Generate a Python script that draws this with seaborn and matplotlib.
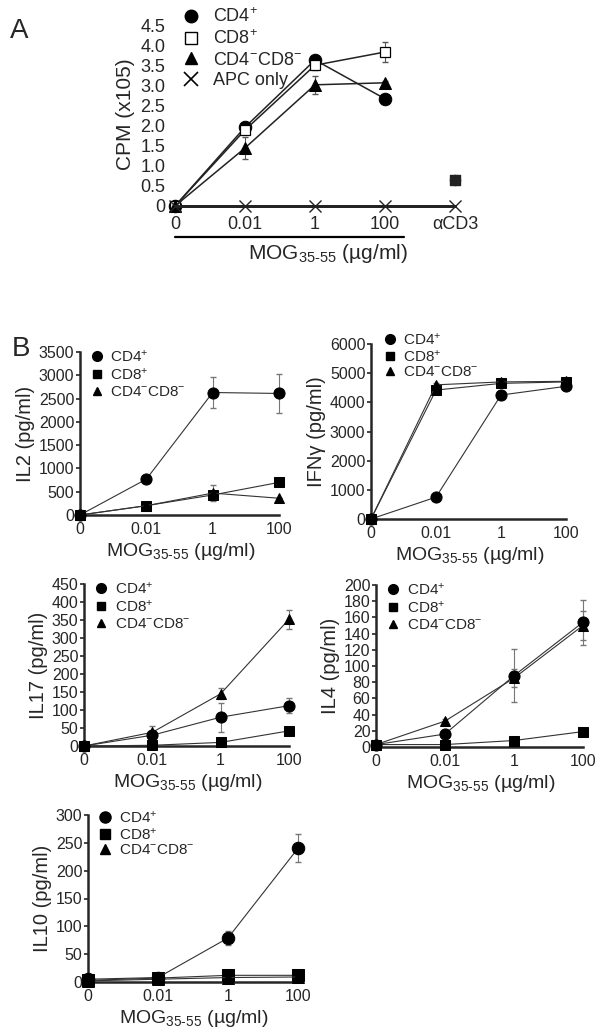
import numpy as np
import pandas as pd
import matplotlib.pyplot as plt
import seaborn as sns
from matplotlib.lines import Line2D

sns.set_style("ticks")
plt.rcParams['font.family'] = ['Liberation Sans', 'DejaVu Sans']
plt.rcParams['mathtext.default'] = 'regular'

# ---------------- data ----------------
doses = ["0", "0.01", "1", "100"]
a_ticks = ["0", "0.01", "1", "100", "αCD3"]

# panel A: proliferation (CPM x10^5)
a_cd4 = [0, 1.97, 3.65, 2.68]
a_cd8 = [0, 1.90, 3.52, 3.85]
a_dn = [0, 1.45, 3.03, 3.08]
a_apc = [0, 0, 0, 0, 0]
a_cd4_err = [0, 0.05, 0.05, 0.05]
a_cd8_err = [0, 0.05, 0.12, 0.25]
a_dn_err = [0, 0.27, 0.22, 0.05]
a_acd3 = [0.65, 0.65, 0.64]   # CD4, CD8, CD4-CD8- with anti-CD3

# panel B: cytokines (pg/ml)
il2_cd4 = [0, 770, 2630, 2610]
il2_cd8 = [0, 200, 430, 700]
il2_dn = [0, 200, 470, 360]
il2_cd4_err = [0, 20, 340, 420]
il2_dn_err = [0, 0, 170, 0]

ifn_cd4 = [0, 750, 4250, 4550]
ifn_cd8 = [0, 4420, 4650, 4700]
ifn_dn = [0, 4600, 4700, 4720]
ifn_cd4_err = [0, 20, 50, 80]
ifn_dn_err = [0, 50, 60, 80]

il17_cd4 = [0, 30, 80, 112]
il17_cd8 = [0, 2, 10, 42]
il17_dn = [0, 38, 145, 352]
il17_cd4_err = [0, 10, 40, 20]
il17_dn_err = [0, 18, 15, 27]

il4_cd4 = [3, 16, 88, 154]
il4_cd8 = [3, 3, 8, 19]
il4_dn = [3, 32, 85, 150]
il4_cd4_err = [0, 2, 33, 28]
il4_dn_err = [0, 2, 11, 18]

il10_cd4 = [5, 8, 79, 240]
il10_cd8 = [3, 7, 12, 12]
il10_dn = [2, 5, 8, 9]
il10_cd4_err = [2, 2, 12, 25]
il10_dn_err = [0, 0, 0, 0]

lab_cd4 = "CD4$^{+}$"
lab_cd8 = "CD8$^{+}$"
lab_dn = "CD4$^{-}$CD8$^{-}$"
xlab = "MOG$_{35\u201055}$ (µg/ml)"

W, H = 601, 1032
fig = plt.figure(figsize=(W / 100, H / 100), dpi=100)


def box(left, right, bottom, top):
    return [left / W, (H - bottom) / H, (right - left) / W, (bottom - top) / H]


# ---------------- panel A ----------------
axA = fig.add_axes(box(168, 462, 206, 22))
pos = list(range(len(doses)))
line_kw = dict(color="#222222", lw=1.1, clip_on=False, markeredgecolor="black", zorder=3)
sns.lineplot(x=pos, y=a_cd4, ax=axA, marker="o", markersize=9, markerfacecolor="black", **line_kw)
sns.lineplot(x=pos, y=a_cd8, ax=axA, marker="s", markersize=7.5, markerfacecolor="white",
             markeredgewidth=0.9, **line_kw)
sns.lineplot(x=pos, y=a_dn, ax=axA, marker="^", markersize=8, markerfacecolor="black", **line_kw)
sns.lineplot(x=list(range(len(a_ticks))), y=a_apc, ax=axA, marker="x", markersize=9,
             markeredgewidth=1.0, markeredgecolor="#222222",
             color="#222222", lw=2, clip_on=False, zorder=4)
for vals, err in [(a_cd4, a_cd4_err), (a_cd8, a_cd8_err), (a_dn, a_dn_err)]:
    axA.errorbar(pos, vals, yerr=err, fmt="none", ecolor="#555555", elinewidth=0.8, capsize=2, zorder=2)
axA.scatter([4, 4, 4], a_acd3, marker="o", s=50, color="#222222", zorder=3)
axA.scatter([4], [a_acd3[1]], marker="s", s=45, color="#222222", zorder=3)

axA.set_xlim(-0.1, 4.1)
axA.set_ylim(0, 4.6)
axA.set_yticks(np.arange(0, 4.6, 0.5))
axA.set_yticklabels(["0"] + [f"{v:.1f}" for v in np.arange(0.5, 4.6, 0.5)])
axA.set_xticks(range(len(a_ticks)))
axA.set_xticklabels(a_ticks)
axA.tick_params(axis="both", length=0, labelsize=13)
axA.tick_params(axis="x", pad=7)
axA.tick_params(axis="y", pad=2)
for s in ["left", "top", "right"]:
    axA.spines[s].set_visible(False)
axA.spines["bottom"].set_linewidth(2)
axA.spines["bottom"].set_bounds(0, 4)
axA.set_ylabel("CPM (x105)", fontsize=15, labelpad=4)
axA.set_xlabel(xlab, fontsize=15)
axA.xaxis.set_label_coords(0.544, -0.195)
axA.add_line(Line2D([0, 3.27], [-0.168, -0.168], transform=axA.get_xaxis_transform(),
                    color="black", lw=1.6, clip_on=False))
hA = [Line2D([], [], ls="none", marker="o", ms=9, color="black"),
      Line2D([], [], ls="none", marker="s", ms=8.5, mfc="white", mec="black", mew=1),
      Line2D([], [], ls="none", marker="^", ms=8.5, color="black"),
      Line2D([], [], ls="none", marker="x", ms=10, mew=1.2, color="black")]
axA.legend(hA, [lab_cd4, lab_cd8, lab_dn, "APC only"], loc="upper left",
           bbox_to_anchor=(0.03, 1.12), frameon=False, fontsize=13, handlelength=0.8,
           handletextpad=0.8, labelspacing=0.2, borderaxespad=0)
fig.text(10 / W, 1 - 38 / H, "A", fontsize=20)
fig.text(12 / W, 1 - 356 / H, "B", fontsize=20)


# ---------------- panel B ----------------
def cyto(rect, cd4, cd8, dn, cd4_err, dn_err, ymax, ystep, ylabel, ms=7, lfs=11,
         lega=(0.03, 1.06), lsp=0.15):
    ax = fig.add_axes(rect)
    kw = dict(color="#333333", lw=0.8, clip_on=False, markeredgecolor="black",
              markerfacecolor="black", zorder=3)
    sns.lineplot(x=pos, y=cd8, ax=ax, marker="s", markersize=ms, **kw)
    sns.lineplot(x=pos, y=dn, ax=ax, marker="^", markersize=ms, **kw)
    sns.lineplot(x=pos, y=cd4, ax=ax, marker="o", markersize=ms + 1, **kw)
    for vals, err in [(cd4, cd4_err), (dn, dn_err)]:
        ax.errorbar(pos, vals, yerr=err, fmt="none", ecolor="#777777", elinewidth=0.8,
                    capsize=2, zorder=2, clip_on=False)
    ax.set_xlim(0, 3.03)
    ax.set_ylim(0, ymax)
    ax.set_yticks(np.arange(0, ymax + 1, ystep))
    ax.set_xticks(pos)
    ax.set_xticklabels(doses)
    ax.tick_params(axis="x", length=0, pad=5, labelsize=11.5)
    ax.tick_params(axis="y", length=3, width=1.2, pad=1, labelsize=11.5)
    for s in ["top", "right"]:
        ax.spines[s].set_visible(False)
    for s in ["left", "bottom"]:
        ax.spines[s].set_linewidth(1.8)
    ax.spines["bottom"].set_bounds(0, 3)
    ax.set_ylabel(ylabel, fontsize=14.5, labelpad=3)
    ax.set_xlabel(xlab, fontsize=14, labelpad=3)
    hB = [Line2D([], [], ls="none", marker="o", ms=ms, color="black"),
          Line2D([], [], ls="none", marker="s", ms=ms - 1, color="black"),
          Line2D([], [], ls="none", marker="^", ms=ms - 1, color="black")]
    ax.legend(hB, [lab_cd4, lab_cd8, lab_dn], loc="upper left", bbox_to_anchor=lega,
              frameon=False, fontsize=lfs, handlelength=0.6, handletextpad=0.6,
              labelspacing=lsp, borderaxespad=0)
    return ax


cyto(box(80, 281, 515, 352), il2_cd4, il2_cd8, il2_dn, il2_cd4_err, il2_dn_err,
     3500, 500, "IL2 (pg/ml)")
cyto(box(371, 568, 519, 344), ifn_cd4, ifn_cd8, ifn_dn, ifn_cd4_err, ifn_dn_err,
     6000, 1000, "IFNγ (pg/ml)", lega=(0.04, 1.105), lsp=0.05)
cyto(box(84, 291, 746, 584), il17_cd4, il17_cd8, il17_dn, il17_cd4_err, il17_dn_err,
     450, 50, "IL17 (pg/ml)")
cyto(box(376, 585, 747, 585), il4_cd4, il4_cd8, il4_dn, il4_cd4_err, il4_dn_err,
     200, 20, "IL4 (pg/ml)")
cyto(box(88, 300, 982, 815), il10_cd4, il10_cd8, il10_dn, il10_cd4_err, il10_dn_err,
     300, 50, "IL10 (pg/ml)", ms=8, lfs=11, lega=(0.03, 1.07), lsp=0.05)

fig.savefig("out.png", dpi=100)
